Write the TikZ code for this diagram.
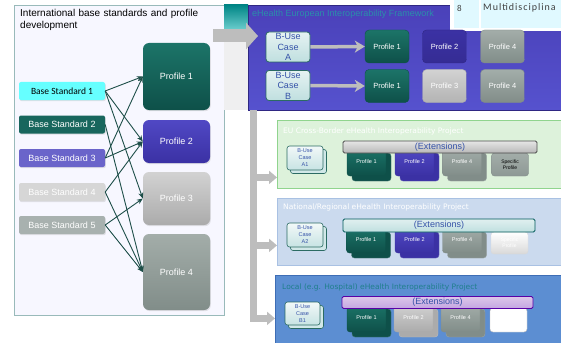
\documentclass[tikz,border=0pt]{standalone}
\usepackage{fontspec}
\setmainfont{Liberation Sans}
\newfontfamily\calfont{Carlito}
\newfontfamily\tabfont[LetterSpace=10]{Carlito}
\newfontfamily\prjfont{DejaVu Sans}
\usetikzlibrary{arrows.meta,calc,shadows}
\definecolor{linkcol}{HTML}{1E4F49}
\definecolor{std1}{HTML}{66FFFF}
\definecolor{std2}{HTML}{18665D}
\definecolor{std3}{HTML}{6A64CA}
\definecolor{std4}{HTML}{D6D6D6}
\definecolor{std5}{HTML}{A8B1AF}
\definecolor{ucblue}{HTML}{3552A8}
\definecolor{ucline}{HTML}{2B6B63}
\definecolor{greyarrow}{HTML}{BDBDBD}
\definecolor{tealtop}{HTML}{1C7468}
\definecolor{tealbot}{HTML}{0E5049}
\definecolor{purptop}{HTML}{5048C4}
\definecolor{purpbot}{HTML}{3B31A4}
\definecolor{grytop}{HTML}{A3ADA9}
\definecolor{grybot}{HTML}{818D89}
\definecolor{lgttop}{HTML}{D2D2D2}
\definecolor{lgtbot}{HTML}{ABABAB}
\definecolor{fwtop}{HTML}{4A41B9}
\definecolor{fwbot}{HTML}{5652CE}
\definecolor{eufill}{HTML}{DDF2DB}
\definecolor{euline}{HTML}{90D48E}
\definecolor{natfill}{HTML}{CBDAEE}
\definecolor{natline}{HTML}{A9C1E3}
\definecolor{locfill}{HTML}{5C8ED2}
\definecolor{locline}{HTML}{3E6DB5}
\definecolor{loctext}{HTML}{1F7F8C}
\definecolor{fwtext}{HTML}{2A8FAA}
\tikzset{
  intlframe/.style={draw=black!35!teal!40, fill=blue!3, rectangle, line width=.8},
  stdblock/.style={rectangle, rounded corners=2, minimum width=86, minimum height=18, inner sep=0, font=\fontsize{9}{11}\selectfont, drop shadow={opacity=.2,shadow xshift=.8pt,shadow yshift=-1.2pt}},
  profblock/.style={rectangle, rounded corners=6, minimum width=67, inner sep=0, text=white, font=\fontsize{9}{11}\selectfont, drop shadow={opacity=.2,shadow xshift=.8pt,shadow yshift=-1.2pt}},
  stdlink/.style={draw=linkcol, line width=.9pt, -{Stealth[length=6pt,width=5pt]}},
  fatarrow/.style={draw=greyarrow, line width=13pt, -{Triangle[length=12pt,width=26pt]}},
  ucbig/.style={rectangle, rounded corners=3, minimum width=44, minimum height=30, inner sep=0, top color=white!90!teal, bottom color=teal!25, draw=ucline, line width=.8, text=ucblue, align=center, font=\fontsize{9}{10.5}\selectfont},
  fwprof/.style={rectangle, rounded corners=4, minimum width=44, minimum height=33, inner sep=0, text=white, font=\fontsize{7.5}{9}\selectfont},
  ucarrow/.style={draw=greyarrow, line width=3.5pt, -{Stealth[length=10pt,width=12pt,inset=3pt]}},
  trunkarrow/.style={draw=greyarrow, line width=6.5pt, -{Triangle[length=8pt,width=13pt]}},
  prjframe/.style={rectangle, line width=.8, anchor=north west},
  prjtitle/.style={anchor=west, inner sep=0, font=\prjfont\fontsize{7.5}{9}\selectfont},
  ucsmall/.style={rectangle, rounded corners=2.5, minimum width=36, minimum height=24, inner sep=0, top color=white!95!teal, bottom color=teal!22, draw=ucline, line width=.6, text=ucblue, align=center, font=\fontsize{5.5}{7}\selectfont, copy shadow={shadow xshift=3.5pt,shadow yshift=-3.5pt,fill=teal!18,draw=ucline,line width=.6}},
  sprof/.style n args={3}{rectangle, rounded corners=3, minimum width=39, minimum height=28, inner sep=0, text=white, font=\fontsize{5.5}{6.5}\selectfont, top color=#1, bottom color=#2, draw=#2, copy shadow={shadow xshift=5pt,shadow yshift=-5pt,fill=#3,draw=#3!80!white}},
  specprof/.style={rectangle, rounded corners=3, minimum width=37, minimum height=23, inner sep=0, align=center, font=\fontsize{5}{6}\selectfont},
  extbar/.style={rectangle, rounded corners=1.5, minimum width=192, minimum height=12, inner sep=0, text=ucblue, font=\fontsize{9}{10}\selectfont, line width=.8}
}
\begin{document}
\begin{tikzpicture}[x=1pt,y=-1pt]
\useasboundingbox (0,0) rectangle (561,342);

\node[intlframe, minimum width=210, minimum height=310] (intl) at (119,160) {} ;
\node[anchor=north west, text width=185, align=left, inner sep=0, font=\fontsize{10}{12.5}\selectfont] (intltitle) at (20,9) {International base standards and profile development} ;

\node[stdblock, fill=std1, font=\calfont\fontsize{9.5}{11}\selectfont] (s1) at (62,91) {Base Standard 1} ;
\node[stdblock, fill=std2, text=white] (s2) at (62,124.5) {Base Standard 2} ;
\node[stdblock, fill=std3, text=white] (s3) at (62,158) {Base Standard 3} ;
\node[stdblock, fill=std4, text=white] (s4) at (62,192) {Base Standard 4} ;
\node[stdblock, fill=std5, text=white] (s5) at (62,225) {Base Standard 5} ;

\node[profblock, minimum height=67, top color=tealtop, bottom color=tealbot] (p1) at (176.5,76.5) {Profile 1} ;
\node[profblock, minimum height=43, top color=purptop, bottom color=purpbot] (p2) at (176.5,141.5) {Profile 2} ;
\node[profblock, minimum height=53, top color=lgttop, bottom color=lgtbot] (p3) at (176.5,198.5) {Profile 3} ;
\node[profblock, minimum height=76, top color=grytop, bottom color=grybot] (p4) at (176.5,272) {Profile 4} ;

\foreach \s/\p in {s1/p1,s1/p2,s1/p3,s2/p4,s3/p1,s3/p2,s4/p2,s4/p4,s5/p3,s5/p4}
  \draw[stdlink] (\s.east) -- (\p.west);

\fill[blue!4!gray!12] (224,5) rectangle (248,110);
\fill[top color=teal!70!cyan!80!black, bottom color=teal!35!cyan!40] (224,5) rectangle (248,40);
\node[prjframe, top color=fwtop, bottom color=fwbot, draw=purpbot!80!black, minimum width=315, minimum height=105] (fw) at (248,5) {} ;
\node[anchor=west, inner sep=0, text=fwtext, font=\fontsize{9}{11}\selectfont] (fwtitle) at (252,14) {eHealth European Interoperability Framework} ;

\fill[white] (450,0) rectangle (561,31);
\fill[blue!20!cyan!12] (454,0) rectangle (479,28);
\fill[blue!20!cyan!12] (481,0) rectangle (561,28);
\node[anchor=west, inner sep=0, text=black!75, font=\tabfont\fontsize{9}{11}\selectfont] (tabno) at (457,8) {8} ;
\node[anchor=west, inner sep=0, text=black!75, font=\tabfont\fontsize{10}{11}\selectfont] (tabname) at (483,8) {Multidisciplina} ;

\node[ucbig] (uca) at (288,47) {B-Use\\Case\\A} ;
\node[ucbig] (ucb) at (288,85.5) {B-Use\\Case\\B} ;
\node[fwprof, top color=tealtop, bottom color=tealbot, draw=tealbot] (pa1) at (387,46.5) {Profile 1} ;
\node[fwprof, top color=purpbot, bottom color=purpbot!90!black, draw=purpbot!80!black] (pa2) at (444.5,46.5) {Profile 2} ;
\node[fwprof, top color=grytop, bottom color=grybot, draw=grybot] (pa4) at (502.5,46.5) {Profile 4} ;
\node[fwprof, top color=tealtop, bottom color=tealbot, draw=tealbot] (pb1) at (387,86) {Profile 1} ;
\node[fwprof, top color=lgttop, bottom color=lgtbot!90!white, draw=lgtbot] (pb3) at (444.5,86) {Profile 3} ;
\node[fwprof, top color=grytop, bottom color=grybot, draw=grybot] (pb4) at (502.5,86) {Profile 4} ;
\draw[ucarrow] (uca.east) -- (pa1.west);
\draw[ucarrow] (ucb.east) -- (pb1.west);

\coordinate (fatstart) at (213,36);
\coordinate (fatend) at (258,36);
\draw[fatarrow] (fatstart) -- (fatend);

\node[prjframe, fill=eufill, draw=euline, minimum width=285, minimum height=68] (eu) at (277,120) {} ;
\node[prjframe, fill=natfill, draw=natline, minimum width=285, minimum height=67] (nat) at (277,198) {} ;
\node[prjframe, fill=locfill, draw=locline, minimum width=287, minimum height=70] (loc) at (275,275) {} ;

\coordinate (trunk) at (253.5,110);
\draw[trunkarrow] (trunk) |- ([yshift=-23pt]eu.west);
\draw[trunkarrow] (trunk) |- ([yshift=-13.5pt]nat.west);
\draw[trunkarrow] (trunk) |- ([yshift=-8pt]loc.west);

\node[prjtitle, text=white] (eutitle) at (283,131) {EU Cross-Border eHealth Interoperability Project} ;
\node[ucsmall] (uca1) at (305,158) {B-Use\\Case\\A1} ;
\node[sprof={tealtop}{tealbot}{tealbot}] (e1) at (366.5,162) {Profile 1} ;
\node[sprof={purptop}{purpbot}{purpbot}] (e2) at (414.5,162) {Profile 2} ;
\node[sprof={grytop}{grybot}{grybot}] (e4) at (462,162) {Profile 4} ;
\node[specprof, top color=grytop, bottom color=grybot!90!white, draw=grybot] (es) at (510,164.5) {Specific\\Profile} ;
\node[extbar, minimum width=194, top color=black!10, bottom color=black!28, draw=black!70] (eext) at (440,147) {(Extensions)} ;

\node[prjtitle, text=white] (nattitle) at (283,207) {National/Regional eHealth Interoperability Project} ;
\node[ucsmall] (uca2) at (305,235) {B-Use\\Case\\A2} ;
\node[sprof={tealtop}{tealbot}{tealbot}, minimum height=26] (n1) at (366,240) {Profile 1} ;
\node[sprof={purptop}{purpbot}{purpbot}, minimum height=26] (n2) at (414.5,240) {Profile 2} ;
\node[sprof={grytop}{grybot}{grybot}, minimum height=26] (n4) at (462,240) {Profile 4} ;
\node[specprof, minimum height=22, top color=white, bottom color=black!15, draw=black!15, text=white] (ns) at (509.5,243) {Specific\\Profile} ;
\node[extbar, minimum height=13, top color=teal!12, bottom color=teal!25, draw=teal!70!black] (next) at (439,225.5) {(Extensions)} ;

\node[prjtitle, text=loctext] (loctitle) at (282,287) {Local (e.g. Hospital) eHealth Interoperability Project} ;
\node[ucsmall, minimum width=35, minimum height=23] (ucb1) at (302.5,313.5) {B-Use\\Case\\B1} ;
\node[sprof={tealtop}{tealbot}{tealbot}] (l1) at (366.5,318) {Profile 1} ;
\node[sprof={lgttop}{lgtbot}{lgtbot}] (l2) at (413.5,318) {Profile 2} ;
\node[sprof={grytop}{grybot}{grybot}] (l4) at (460.5,318) {Profile 4} ;
\node[specprof, minimum height=24, fill=white, draw=black!25] (lw) at (508.5,320) {} ;
\node[extbar, minimum width=191, top color=blue!20!violet!22, bottom color=blue!35!violet!35, draw=violet!70!blue] (lext) at (437.5,302.5) {(Extensions)} ;
\end{tikzpicture}
\end{document}
